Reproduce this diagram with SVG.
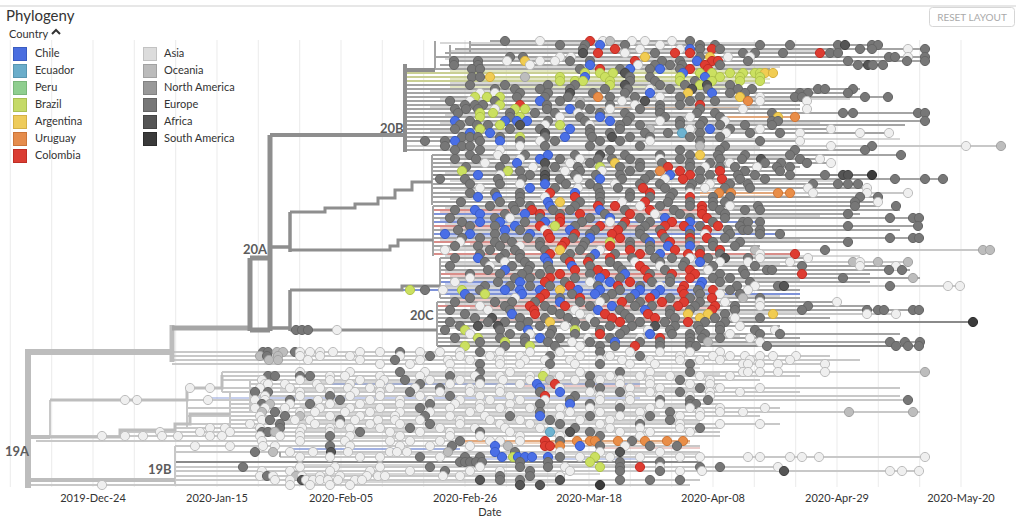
<svg xmlns="http://www.w3.org/2000/svg" width="1024" height="524" viewBox="0 0 1024 524">
<style>
text{font-family:Lato,"Open Sans","Liberation Sans",sans-serif;fill:#333}
.grid{stroke:#ebebeb;stroke-width:1;fill:none}
.t{fill:none}
.g{stroke:#a4a4a4;stroke-width:2}
.d{stroke:#8a8a8a;stroke-width:2}
.l{stroke:#c8c8c8;stroke-width:2}
.gb{stroke:#c9cf93;stroke-width:2}
.bb{stroke:#7f93d8;stroke-width:2}
.rr{stroke:#d88d89;stroke-width:2}
.oo{stroke:#e2a87c;stroke-width:2}
.th{stroke:#b0b0b0;stroke-width:1.2}
.bk{stroke:#bdbdbd}
.bd{stroke:#8e8e8e}
circle{r:4.6px;stroke-width:1}
.E circle{fill:#777;stroke:#666}
.A circle{fill:#efefef;stroke:#bdbdbd}
circle.e{fill:#777;stroke:#666}
circle.a{fill:#efefef;stroke:#bdbdbd}
circle.o{fill:#bdbdbd;stroke:#a3a3a3}
circle.f{fill:#555;stroke:#444}
circle.s{fill:#3b3b3b;stroke:#2e2e2e}
circle.ch{fill:#4a6fe6;stroke:#3a5cc8}
circle.ec{fill:#6db3d1;stroke:#5899b5}
circle.bz{fill:#cbe060;stroke:#b0c44c}
circle.ar{fill:#f1cc52;stroke:#d6b03e}
circle.uy{fill:#e98d47;stroke:#cf7637}
circle.co{fill:#de3c31;stroke:#c12d24}
.lab{font-size:13px;font-weight:700;fill:#5c5c5c}
.tick{font-size:11px;text-anchor:middle}
.lg{font-size:11px}
</style>
<rect width="1024" height="524" fill="#fff"/>
<g id="header">
<line x1="0" y1="6" x2="1016" y2="6" stroke="#cfcfcf" stroke-width="1"/>
<text x="6" y="21" font-size="15">Phylogeny</text>
<rect x="929.5" y="7.5" width="85" height="19" rx="3" fill="#fff" stroke="#d6d6d6"/>
<text x="972" y="21" font-size="10" text-anchor="middle" style="fill:#aaa">RESET LAYOUT</text>
</g>
<g id="grid">
<path class="grid" d="M10.3 40V487M51.7 40V487M93 40V487M134.3 40V487M175.7 40V487M217 40V487M258.3 40V487M299.7 40V487M341 40V487M382.3 40V487M423.7 40V487M465 40V487M506.3 40V487M547.7 40V487M589 40V487M630.3 40V487M671.7 40V487M713 40V487M754.3 40V487M795.7 40V487M837 40V487M878.3 40V487M919.7 40V487M961 40V487"/>
</g>
<g id="legend">
<text x="9" y="38" class="lg">Country</text>
<path d="M52 34l4-4 4 4" fill="none" stroke="#333" stroke-width="2"/>
<rect x="13.5" y="47.5" width="13" height="13" fill="#4a6ee0" stroke="#3a5cc0"/><text x="35" y="57" class="lg">Chile</text>
<rect x="13.5" y="64.5" width="13" height="13" fill="#6aadca" stroke="#5896b0"/><text x="35" y="74" class="lg">Ecuador</text>
<rect x="13.5" y="81.5" width="13" height="13" fill="#8fce8f" stroke="#79b679"/><text x="35" y="91" class="lg">Peru</text>
<rect x="13.5" y="98.5" width="13" height="13" fill="#c5da67" stroke="#aabf52"/><text x="35" y="108" class="lg">Brazil</text>
<rect x="13.5" y="115.5" width="13" height="13" fill="#eecb5a" stroke="#d4b046"/><text x="35" y="125" class="lg">Argentina</text>
<rect x="13.5" y="132.5" width="13" height="13" fill="#e58c4c" stroke="#cb753a"/><text x="35" y="142" class="lg">Uruguay</text>
<rect x="13.5" y="149.5" width="13" height="13" fill="#da3d33" stroke="#be2e25"/><text x="35" y="159" class="lg">Colombia</text>
<rect x="143.5" y="47.5" width="13" height="13" fill="#dcdcdc" stroke="#c2c2c2"/><text x="164" y="57" class="lg">Asia</text>
<rect x="143.5" y="64.5" width="13" height="13" fill="#bbb" stroke="#a2a2a2"/><text x="164" y="74" class="lg">Oceania</text>
<rect x="143.5" y="81.5" width="13" height="13" fill="#999" stroke="#828282"/><text x="164" y="91" class="lg">North America</text>
<rect x="143.5" y="98.5" width="13" height="13" fill="#777" stroke="#636363"/><text x="164" y="108" class="lg">Europe</text>
<rect x="143.5" y="115.5" width="13" height="13" fill="#555" stroke="#444"/><text x="164" y="125" class="lg">Africa</text>
<rect x="143.5" y="132.5" width="13" height="13" fill="#3a3a3a" stroke="#2c2c2c"/><text x="164" y="142" class="lg">South America</text>
</g>
<g id="connectors" class="t">
<path class="th" d="M440 43H760M450 51H820M445 59H700M455 67H780M450 83H770M430 91H720M440 99H850M430 107H760M445 115H700M440 123H820M430 131H760M440 139H900M440 148H760M450 157H800M450 165H740M445 173H700M450 181H840M450 190H780M450 199H700M445 208H760M445 216H820M445 224H700M440 232H760M440 240H800M440 248H720M445 256H860M450 264H780M445 272H720M450 280H800M445 288H740M450 296H780M445 304H720M445 312H800M445 320H760M445 328H700M450 336H740M450 344H800M450 368H700M400 374H720M300 382H640M280 390H700M300 406H700M300 414H660M280 422H700M300 430H640M300 438H460M300 454H700M300 465H640M300 474H600M300 482H560"/>
<path class="th" style="stroke:#d89a96" d="M440 212H700M440 228H690M470 244H700M450 276H680M455 300H700M470 308H720M480 320H690M520 386H640M600 448H700"/>
<path class="th" style="stroke:#8d9fdc" d="M440 220H600M445 236H640M445 284H650M440 292H720M210 398H640M290 449H460M470 459H640"/>
<path class="th" style="stroke:#c8d08a" d="M450 71H775M450 79H770M450 87H740"/>
<path class="th" style="stroke:#e4ae84" d="M600 108H750M465 443H690M700 196H790"/>
<path class="g" d="M490 41H690M470 45H880M455 49H925M445 53H840M435 57H925M450 61H925M440 65H885M420 69H770M405 85H730M405 89H860M405 93H850M405 97H890M405 101H800M405 105H800M405 109H800M405 113H925M405 117H720M405 121H925M405 125H905M405 129H830M405 133H890M405 137H720M405 141H800M405 150H865M432 155H901M432 159H820M432 163H835M432 167H800M432 171H780M432 179H945M432 184H860M432 188H870M432 193H700M432 197H880M432 202H880M433 206H880M700 210H900M600 214H860M433 218H920M433 230H900M433 238H920M700 242H850M433 246H760M700 226H920M440 258H810M440 266H900M440 270H910M700 274H870M440 278H920M700 282H870M700 290H800M440 298H800M437 302H840M700 306H870M437 310H920M437 318H830M437 326H780M437 334H900M437 338H800M437 342H920"/>
<path class="d" d="M432 175H872M437 322H975M437 346H920M175 462H700"/>
<path class="gb" d="M405 73H775M405 77H760M405 81H760"/>
<path class="oo" d="M720 117H795M700 193H790M465 441H690"/>
<path class="rr" d="M433 210H700M433 226H700M433 242H700M433 254H800M440 274H700M437 306H700"/>
<path class="bb" d="M433 214H600M433 222H760M433 234H780M440 282H700M402 290H700M440 294H800"/>
<path class="l" d="M405 146H1001M790 193H910M433 250H990M440 262H910M440 286H960M437 314H900M172 352H720M172 356H830M172 360H860M172 364H830M222 372H925M222 376H800M222 380H760M250 384H720M187 388H900M222 392H800M250 396H900M50 400H910M230 404H720M187 408H780M230 412H920M187 416H760M230 420H700M187 424H780M175 428H720M120 432H720M50 436H720M36 441H465M175 446H700M175 452H700M280 457H925M175 467H780M175 471H920M175 476H560M28 480H700M28 485H690"/>
<path class="bb" style="stroke-width:1.2" d="M292 449H460M330 384H640"/>
<path class="g" d="M435 41V70M450 45V61M470 41V53M432 155V205M433 206V256M440 258V298M437 302V346M280 452V457"/>
<path class="l" d="M222 372V392M250 380V412M187 388V428M230 392V432M175 446V486M120 432V436M50 400V437"/>
<path class="bk" stroke-width="6" d="M28 349V488M28 352H172"/>
<path class="bk" stroke-width="5" d="M172 325V362"/>
<path class="bk" stroke-width="4" d="M28 437H50M28 480H175"/>
<path class="bk" stroke-width="3" d="M50 400H187V388H222V375M50 437H120V430H175V424H190V414H230"/>
<path stroke="#a6a6a6" stroke-width="5" d="M172 328H250"/>
<path class="bd" stroke-width="5" d="M250 258V331M250 258H270M250 330H270M270 135V331"/>
<path class="bd" stroke-width="4" d="M270 135H405M405 64V152M405 70H435"/>
<path class="bd" stroke-width="3.5" d="M270 247H290M290 212V252M270 328H290M290 290V331"/>
<path class="bd" stroke-width="3" d="M290 212H325V208H355V204H378V198H395V190H412V182H432M290 250H390V246H398V240H433M290 290H402V286H440M290 330H437"/>
</g>
<g id="clade-20B" class="E">
<g transform="translate(0 41)"><circle cx="505"/><circle cx="540" class="a"/><circle cx="590" class="co"/><circle cx="603" class="a"/><circle cx="610" class="o"/><circle cx="632" class="a"/><circle cx="645" class="a"/><circle cx="672" class="a"/><circle cx="690"/></g>
<g transform="translate(0 45)"><circle cx="560"/><circle cx="585"/><circle cx="600" class="ch"/><circle cx="625"/><circle cx="660" class="a"/><circle cx="700"/><circle cx="715"/><circle cx="760"/><circle cx="790"/><circle cx="838"/><circle cx="845" class="f"/><circle cx="872"/><circle cx="878"/></g>
<g transform="translate(0 49)"><circle cx="583"/><circle cx="615" class="co"/><circle cx="640" class="a"/><circle cx="680" class="a"/><circle cx="690" class="ch"/><circle cx="700"/><circle cx="712" class="co"/><circle cx="720"/><circle cx="860"/><circle cx="872"/><circle cx="908" class="a"/><circle cx="925"/></g>
<g transform="translate(0 53)"><circle cx="583" class="f"/><circle cx="598" class="co"/><circle cx="625" class="a"/><circle cx="655"/><circle cx="675" class="co"/><circle cx="690" class="co"/><circle cx="743"/><circle cx="755"/><circle cx="783"/><circle cx="820" class="co"/><circle cx="830"/><circle cx="838"/></g>
<g transform="translate(0 57)"><circle cx="510"/><circle cx="523"/><circle cx="560" class="a"/><circle cx="571" class="a"/><circle cx="645" class="ar"/><circle cx="700"/><circle cx="710" class="ar"/><circle cx="728" class="a"/><circle cx="750" class="a"/><circle cx="889"/><circle cx="895"/><circle cx="908" class="a"/><circle cx="925"/></g>
<g transform="translate(0 61)"><circle cx="454"/><circle cx="478"/><circle cx="507" class="a"/><circle cx="525" class="ar"/><circle cx="540" class="a"/><circle cx="555" class="a"/><circle cx="570"/><circle cx="590"/><circle cx="635" class="co"/><circle cx="662"/><circle cx="680"/><circle cx="697" class="ch"/><circle cx="712" class="co"/><circle cx="718" class="co"/><circle cx="748"/><circle cx="848"/><circle cx="907"/><circle cx="925"/></g>
<g transform="translate(0 65)"><circle cx="454"/><circle cx="478"/><circle cx="530" class="a"/><circle cx="590" class="ch"/><circle cx="638" class="a"/><circle cx="655"/><circle cx="670"/><circle cx="682"/><circle cx="705" class="co"/><circle cx="720"/><circle cx="858"/><circle cx="868" class="f"/><circle cx="873"/><circle cx="883"/></g>
<g transform="translate(0 69)"><circle cx="472"/><circle cx="480"/><circle cx="580"/><circle cx="600" class="co"/><circle cx="620"/><circle cx="630" class="ch"/><circle cx="650"/><circle cx="660" class="ch"/><circle cx="680"/><circle cx="690" class="co"/><circle cx="708" class="co"/></g>
<g transform="translate(0 73)"><circle cx="585" class="bz"/><circle cx="600" class="bz"/><circle cx="613" class="bz"/><circle cx="625" class="f"/><circle cx="683" class="ch"/><circle cx="700" class="bz"/><circle cx="712" class="bz"/><circle cx="730" class="bz"/><circle cx="743" class="bz"/><circle cx="755" class="bz"/><circle cx="760" class="bz"/><circle cx="765" class="ar"/><circle cx="773" class="ar"/></g>
<g transform="translate(0 77)"><circle cx="472"/><circle cx="480"/><circle cx="490" class="ar"/><circle cx="525" class="o"/><circle cx="560" class="bz"/><circle cx="585" class="ch"/><circle cx="605" class="bz"/><circle cx="630"/><circle cx="650"/><circle cx="680" class="bz"/><circle cx="705" class="ch"/><circle cx="720" class="bz"/><circle cx="740" class="bz"/><circle cx="760" class="bz"/></g>
<g transform="translate(0 81)"><circle cx="560" class="bz"/><circle cx="575" class="bz"/><circle cx="583" class="bz"/><circle cx="610" class="bz"/><circle cx="630"/><circle cx="655"/><circle cx="680" class="bz"/><circle cx="695"/><circle cx="712" class="bz"/><circle cx="740" class="bz"/><circle cx="760" class="bz"/></g>
<g transform="translate(0 85)"><circle cx="470"/><circle cx="505"/><circle cx="548"/><circle cx="575"/><circle cx="610" class="bz"/><circle cx="625" class="f"/><circle cx="660"/><circle cx="685"/><circle cx="700" class="bz"/><circle cx="707" class="f"/><circle cx="730"/></g>
<g transform="translate(0 89)"><circle cx="495"/><circle cx="515"/><circle cx="540"/><circle cx="570"/><circle cx="605"/><circle cx="628"/><circle cx="650" class="a"/><circle cx="670"/><circle cx="692" class="f"/><circle cx="708"/><circle cx="738"/><circle cx="752"/><circle cx="818"/><circle cx="825"/><circle cx="853"/></g>
<g transform="translate(0 93)"><circle cx="480" class="a"/><circle cx="495" class="a"/><circle cx="520"/><circle cx="548"/><circle cx="570" class="f"/><circle cx="593"/><circle cx="625"/><circle cx="650" class="ch"/><circle cx="688" class="ar"/><circle cx="712" class="ch"/><circle cx="730"/><circle cx="745"/><circle cx="800"/><circle cx="808"/><circle cx="848"/></g>
<g transform="translate(0 97)"><circle cx="475" class="bz"/><circle cx="487" class="bz"/><circle cx="500" class="bz"/><circle cx="517"/><circle cx="545"/><circle cx="568"/><circle cx="598" class="uy"/><circle cx="610"/><circle cx="635"/><circle cx="660" class="a"/><circle cx="680"/><circle cx="700"/><circle cx="740" class="ar"/><circle cx="760" class="a"/><circle cx="795"/><circle cx="802"/><circle cx="865"/><circle cx="888"/></g>
<g transform="translate(0 101)"><circle cx="450"/><circle cx="470" class="a"/><circle cx="495"/><circle cx="540" class="ch"/><circle cx="560"/><circle cx="580" class="o"/><circle cx="622" class="a"/><circle cx="645" class="f"/><circle cx="690"/><circle cx="715"/><circle cx="748" class="uy"/><circle cx="760" class="a"/><circle cx="807" class="a"/></g>
<g transform="translate(0 105)"><circle cx="465"/><circle cx="475"/><circle cx="483"/><circle cx="500" class="bz"/><circle cx="520" class="co"/><circle cx="547"/><circle cx="580"/><circle cx="610"/><circle cx="635" class="a"/><circle cx="660"/><circle cx="680"/><circle cx="700" class="co"/></g>
<g transform="translate(0 109)"><circle cx="455"/><circle cx="466"/><circle cx="478"/><circle cx="495" class="a"/><circle cx="515" class="bz"/><circle cx="525" class="bz"/><circle cx="547"/><circle cx="570" class="ch"/><circle cx="590"/><circle cx="610" class="a"/><circle cx="640"/><circle cx="660"/><circle cx="700"/><circle cx="743" class="a"/><circle cx="807" class="a"/></g>
<g transform="translate(0 113)"><circle cx="458"/><circle cx="480" class="bz"/><circle cx="493" class="bz"/><circle cx="510"/><circle cx="535"/><circle cx="555"/><circle cx="578" class="a"/><circle cx="600"/><circle cx="625"/><circle cx="660"/><circle cx="697"/><circle cx="715"/><circle cx="772"/><circle cx="843"/><circle cx="853"/><circle cx="918"/><circle cx="925"/></g>
<g transform="translate(0 117)"><circle cx="480" class="bz"/><circle cx="510"/><circle cx="520" class="bz"/><circle cx="560" class="a"/><circle cx="580"/><circle cx="600" class="ch"/><circle cx="630"/><circle cx="665"/><circle cx="690" class="a"/><circle cx="720"/><circle cx="778" class="ar"/><circle cx="795" class="uy"/></g>
<g transform="translate(0 121)"><circle cx="455" class="ch"/><circle cx="470"/><circle cx="505" class="ch"/><circle cx="517" class="ch"/><circle cx="527" class="ch"/><circle cx="548"/><circle cx="585"/><circle cx="610" class="ch"/><circle cx="627"/><circle cx="660" class="a"/><circle cx="680"/><circle cx="703"/><circle cx="725" class="a"/><circle cx="772"/><circle cx="778"/><circle cx="925"/></g>
<g transform="translate(0 125)"><circle cx="460"/><circle cx="477"/><circle cx="488"/><circle cx="500" class="bz"/><circle cx="520" class="f"/><circle cx="545" class="a"/><circle cx="560" class="bz"/><circle cx="590" class="a"/><circle cx="620"/><circle cx="640"/><circle cx="680"/><circle cx="700"/><circle cx="720"/><circle cx="745"/><circle cx="772"/></g>
<g transform="translate(0 129)"><circle cx="455"/><circle cx="480" class="bz"/><circle cx="510"/><circle cx="540"/><circle cx="570" class="ch"/><circle cx="590"/><circle cx="620"/><circle cx="650" class="o"/><circle cx="690" class="a"/><circle cx="710" class="ch"/><circle cx="730"/><circle cx="760" class="a"/><circle cx="831" class="a"/></g>
<g transform="translate(0 133)"><circle cx="470" class="ch"/><circle cx="490" class="ch"/><circle cx="545" class="f"/><circle cx="590"/><circle cx="610"/><circle cx="645"/><circle cx="668"/><circle cx="682" class="ec"/><circle cx="700"/><circle cx="726" class="a"/><circle cx="750"/><circle cx="780"/><circle cx="800" class="a"/><circle cx="860" class="a"/><circle cx="889" class="a"/></g>
<g transform="translate(0 137)"><circle cx="462"/><circle cx="470"/><circle cx="478"/><circle cx="500"/><circle cx="520" class="bz"/><circle cx="545"/><circle cx="565" class="ch"/><circle cx="592"/><circle cx="612" class="f"/><circle cx="630"/><circle cx="650"/><circle cx="690"/><circle cx="720"/></g>
<g transform="translate(0 141)"><circle cx="425"/><circle cx="445"/><circle cx="455" class="ch"/><circle cx="480"/><circle cx="500" class="ch"/><circle cx="520"/><circle cx="540" class="a"/><circle cx="555"/><circle cx="600"/><circle cx="620"/><circle cx="650" class="a"/><circle cx="700"/><circle cx="760"/><circle cx="800" class="a"/></g>
<g transform="translate(0 146)"><circle cx="445"/><circle cx="462"/><circle cx="470"/><circle cx="520" class="a"/><circle cx="545"/><circle cx="590"/><circle cx="640"/><circle cx="700" class="o"/><circle cx="725"/><circle cx="831" class="a"/><circle cx="872"/><circle cx="966" class="a"/><circle cx="1001" class="o"/></g>
<g transform="translate(0 150)"><circle cx="455"/><circle cx="480"/><circle cx="500" class="a"/><circle cx="610"/><circle cx="680"/><circle cx="720"/><circle cx="795"/><circle cx="865"/></g>
</g>
<g id="clade-20A" class="E">
<g transform="translate(0 155)"><circle cx="470"/><circle cx="498" class="a"/><circle cx="525"/><circle cx="548" class="ch"/><circle cx="575"/><circle cx="600" class="f"/><circle cx="625"/><circle cx="660"/><circle cx="690"/><circle cx="700" class="ar"/><circle cx="718"/><circle cx="745"/><circle cx="790"/><circle cx="901"/></g>
<g transform="translate(0 159)"><circle cx="455"/><circle cx="476"/><circle cx="505"/><circle cx="520" class="a"/><circle cx="540" class="ch"/><circle cx="560"/><circle cx="580" class="a"/><circle cx="598"/><circle cx="612"/><circle cx="630"/><circle cx="660" class="a"/><circle cx="680"/><circle cx="720"/><circle cx="742"/><circle cx="761" class="f"/><circle cx="800"/><circle cx="820" class="a"/></g>
<g transform="translate(0 163)"><circle cx="485" class="a"/><circle cx="517" class="ch"/><circle cx="545" class="f"/><circle cx="570" class="a"/><circle cx="590"/><circle cx="615" class="ar"/><circle cx="640"/><circle cx="662"/><circle cx="690"/><circle cx="710"/><circle cx="730" class="a"/><circle cx="765"/><circle cx="781"/><circle cx="807"/><circle cx="831" class="a"/></g>
<g transform="translate(0 167)"><circle cx="466"/><circle cx="500"/><circle cx="533" class="a"/><circle cx="555"/><circle cx="578"/><circle cx="600" class="bz"/><circle cx="620"/><circle cx="640"/><circle cx="668" class="co"/><circle cx="690"/><circle cx="705" class="a"/><circle cx="720"/><circle cx="735"/><circle cx="757" class="a"/><circle cx="777"/><circle cx="790"/></g>
<g transform="translate(0 171)"><circle cx="462" class="bz"/><circle cx="508" class="bz"/><circle cx="520"/><circle cx="545"/><circle cx="565" class="a"/><circle cx="580"/><circle cx="602" class="a"/><circle cx="630"/><circle cx="660" class="uy"/><circle cx="680" class="co"/><circle cx="700"/><circle cx="720" class="co"/><circle cx="745"/><circle cx="780"/></g>
<g transform="translate(0 175)"><circle cx="478" class="ch"/><circle cx="500" class="a"/><circle cx="530"/><circle cx="545" class="f"/><circle cx="575"/><circle cx="596"/><circle cx="620"/><circle cx="650"/><circle cx="670" class="ch"/><circle cx="690" class="co"/><circle cx="710"/><circle cx="738"/><circle cx="755"/><circle cx="790"/><circle cx="825"/><circle cx="843" class="f"/><circle cx="848" class="f"/><circle cx="872" class="s"/></g>
<g transform="translate(0 179)"><circle cx="440"/><circle cx="465"/><circle cx="498"/><circle cx="522"/><circle cx="545" class="f"/><circle cx="560"/><circle cx="578" class="a"/><circle cx="600" class="ch"/><circle cx="622"/><circle cx="645"/><circle cx="665" class="a"/><circle cx="683" class="co"/><circle cx="700"/><circle cx="722" class="co"/><circle cx="740"/><circle cx="765"/><circle cx="895"/><circle cx="925"/><circle cx="943"/></g>
<g transform="translate(0 184)"><circle cx="470"/><circle cx="500"/><circle cx="520" class="a"/><circle cx="545" class="ch"/><circle cx="566"/><circle cx="590"/><circle cx="615" class="a"/><circle cx="640"/><circle cx="660"/><circle cx="692"/><circle cx="710" class="a"/><circle cx="730"/><circle cx="748"/><circle cx="813"/><circle cx="838"/><circle cx="848"/><circle cx="858"/></g>
<g transform="translate(0 188)"><circle cx="480" class="a"/><circle cx="530" class="ch"/><circle cx="555"/><circle cx="578" class="a"/><circle cx="598"/><circle cx="618"/><circle cx="643" class="co"/><circle cx="665"/><circle cx="690"/><circle cx="705" class="a"/><circle cx="725"/><circle cx="750"/><circle cx="808" class="a"/><circle cx="867" class="a"/></g>
<g transform="translate(0 193)"><circle cx="470"/><circle cx="495"/><circle cx="520"/><circle cx="550" class="co"/><circle cx="575" class="ch"/><circle cx="600"/><circle cx="630"/><circle cx="650" class="co"/><circle cx="673"/><circle cx="690" class="a"/><circle cx="719" class="uy"/><circle cx="731" class="uy"/><circle cx="778" class="uy"/><circle cx="790" class="uy"/><circle cx="813" class="a"/><circle cx="867" class="a"/><circle cx="908" class="a"/></g>
<g transform="translate(0 197)"><circle cx="478" class="ch"/><circle cx="497" class="ch"/><circle cx="520"/><circle cx="545" class="a"/><circle cx="575" class="co"/><circle cx="600"/><circle cx="630"/><circle cx="650"/><circle cx="670"/><circle cx="690" class="co"/><circle cx="713"/><circle cx="730"/><circle cx="860"/><circle cx="878"/></g>
<g transform="translate(0 202)"><circle cx="461"/><circle cx="500"/><circle cx="520"/><circle cx="548" class="ch"/><circle cx="560" class="ar"/><circle cx="580"/><circle cx="600"/><circle cx="622" class="a"/><circle cx="645" class="co"/><circle cx="668"/><circle cx="690"/><circle cx="713"/><circle cx="725"/><circle cx="855"/><circle cx="878" class="a"/></g>
<g transform="translate(0 206)"><circle cx="490"/><circle cx="513"/><circle cx="530"/><circle cx="550" class="ch"/><circle cx="575"/><circle cx="598" class="co"/><circle cx="615" class="co"/><circle cx="640" class="a"/><circle cx="660"/><circle cx="690"/><circle cx="702" class="co"/><circle cx="713"/><circle cx="730" class="a"/><circle cx="758"/><circle cx="855"/><circle cx="896"/></g>
<g transform="translate(0 210)"><circle cx="455"/><circle cx="475" class="ch"/><circle cx="515"/><circle cx="532" class="co"/><circle cx="553"/><circle cx="570"/><circle cx="600" class="ch"/><circle cx="625"/><circle cx="650" class="co"/><circle cx="674"/><circle cx="702" class="co"/><circle cx="720"/><circle cx="745"/><circle cx="760"/></g>
<g transform="translate(0 214)"><circle cx="480" class="ch"/><circle cx="505"/><circle cx="525" class="ch"/><circle cx="540" class="co"/><circle cx="560"/><circle cx="580" class="co"/><circle cx="605"/><circle cx="630" class="co"/><circle cx="655" class="a"/><circle cx="680"/><circle cx="702" class="co"/><circle cx="725"/><circle cx="848"/></g>
<g transform="translate(0 218)"><circle cx="450"/><circle cx="495"/><circle cx="510" class="a"/><circle cx="540"/><circle cx="560" class="co"/><circle cx="590"/><circle cx="610" class="ch"/><circle cx="640"/><circle cx="665" class="ch"/><circle cx="690"/><circle cx="707" class="co"/><circle cx="725"/><circle cx="890"/><circle cx="913"/><circle cx="919"/></g>
<g transform="translate(0 222)"><circle cx="462"/><circle cx="480" class="ch"/><circle cx="500" class="ch"/><circle cx="525"/><circle cx="545" class="ch"/><circle cx="560" class="co"/><circle cx="582"/><circle cx="610" class="a"/><circle cx="625" class="co"/><circle cx="650"/><circle cx="672" class="co"/><circle cx="690" class="ch"/><circle cx="713"/><circle cx="743"/><circle cx="748"/><circle cx="760"/></g>
<g transform="translate(0 226)"><circle cx="470"/><circle cx="495"/><circle cx="515" class="ch"/><circle cx="540" class="co"/><circle cx="555" class="bz"/><circle cx="575"/><circle cx="600" class="co"/><circle cx="622"/><circle cx="645"/><circle cx="665" class="co"/><circle cx="684" class="co"/><circle cx="700"/><circle cx="718" class="co"/><circle cx="740"/><circle cx="848"/><circle cx="918"/></g>
<g transform="translate(0 230)"><circle cx="458"/><circle cx="505" class="ch"/><circle cx="520"/><circle cx="545" class="a"/><circle cx="570" class="ch"/><circle cx="595"/><circle cx="618" class="co"/><circle cx="640"/><circle cx="660"/><circle cx="690" class="ch"/><circle cx="707" class="co"/><circle cx="728"/><circle cx="743"/><circle cx="748"/><circle cx="760"/></g>
<g transform="translate(0 234)"><circle cx="445" class="ch"/><circle cx="470" class="ch"/><circle cx="495"/><circle cx="530" class="ch"/><circle cx="548" class="co"/><circle cx="575" class="co"/><circle cx="590"/><circle cx="612" class="co"/><circle cx="640"/><circle cx="662" class="co"/><circle cx="690"/><circle cx="705" class="a"/><circle cx="730"/><circle cx="760"/><circle cx="780"/></g>
<g transform="translate(0 238)"><circle cx="462"/><circle cx="480"/><circle cx="505"/><circle cx="528"/><circle cx="550" class="co"/><circle cx="573"/><circle cx="590" class="ch"/><circle cx="620" class="co"/><circle cx="645"/><circle cx="665"/><circle cx="690" class="co"/><circle cx="707" class="co"/><circle cx="725"/><circle cx="890"/><circle cx="913"/><circle cx="919"/></g>
<g transform="translate(0 242)"><circle cx="460" class="a"/><circle cx="495"/><circle cx="512"/><circle cx="540"/><circle cx="565" class="co"/><circle cx="585"/><circle cx="610" class="bz"/><circle cx="630"/><circle cx="650" class="ch"/><circle cx="670" class="co"/><circle cx="690"/><circle cx="713"/><circle cx="740"/><circle cx="848"/></g>
<g transform="translate(0 246)"><circle cx="455"/><circle cx="478"/><circle cx="500"/><circle cx="520" class="a"/><circle cx="540"/><circle cx="562" class="co"/><circle cx="583"/><circle cx="610" class="co"/><circle cx="630"/><circle cx="650"/><circle cx="668" class="ch"/><circle cx="690" class="ch"/><circle cx="713"/><circle cx="735"/></g>
<g transform="translate(0 250)"><circle cx="445" class="a"/><circle cx="490"/><circle cx="515"/><circle cx="545"/><circle cx="560" class="ar"/><circle cx="580"/><circle cx="600" class="a"/><circle cx="630" class="co"/><circle cx="650"/><circle cx="675" class="co"/><circle cx="700"/><circle cx="720" class="co"/><circle cx="755" class="o"/><circle cx="825"/><circle cx="983" class="o"/><circle cx="990" class="o"/></g>
<g transform="translate(0 254)"><circle cx="480"/><circle cx="505"/><circle cx="520"/><circle cx="550" class="co"/><circle cx="570"/><circle cx="595" class="ch"/><circle cx="615"/><circle cx="640" class="co"/><circle cx="660" class="ch"/><circle cx="688" class="co"/><circle cx="700" class="co"/><circle cx="720"/><circle cx="760" class="a"/><circle cx="795" class="co"/></g>
<g transform="translate(0 258)"><circle cx="455"/><circle cx="478" class="ch"/><circle cx="500"/><circle cx="520"/><circle cx="545" class="ch"/><circle cx="565"/><circle cx="590"/><circle cx="610" class="co"/><circle cx="632"/><circle cx="655"/><circle cx="672"/><circle cx="690" class="a"/><circle cx="708"/><circle cx="725" class="f"/><circle cx="748"/><circle cx="760" class="a"/><circle cx="808" class="a"/></g>
<g transform="translate(0 262)"><circle cx="485"/><circle cx="505" class="a"/><circle cx="525"/><circle cx="548" class="ch"/><circle cx="570" class="co"/><circle cx="588" class="co"/><circle cx="610"/><circle cx="635" class="a"/><circle cx="660"/><circle cx="685"/><circle cx="700" class="ch"/><circle cx="720" class="a"/><circle cx="748" class="a"/><circle cx="790" class="a"/><circle cx="853" class="o"/><circle cx="860" class="a"/><circle cx="878" class="o"/><circle cx="908" class="o"/></g>
<g transform="translate(0 266)"><circle cx="450"/><circle cx="490" class="a"/><circle cx="512"/><circle cx="530"/><circle cx="548"/><circle cx="572" class="ch"/><circle cx="590"/><circle cx="618"/><circle cx="640" class="co"/><circle cx="660" class="a"/><circle cx="683"/><circle cx="713"/><circle cx="755"/><circle cx="802"/><circle cx="860" class="a"/><circle cx="896" class="a"/></g>
<g transform="translate(0 270)"><circle cx="488"/><circle cx="505" class="ch"/><circle cx="528"/><circle cx="550"/><circle cx="575" class="co"/><circle cx="598" class="co"/><circle cx="622"/><circle cx="645" class="co"/><circle cx="665"/><circle cx="690" class="co"/><circle cx="708" class="a"/><circle cx="743"/><circle cx="767"/><circle cx="772"/><circle cx="889"/><circle cx="902"/></g>
<g transform="translate(0 274)"><circle cx="470"/><circle cx="500"/><circle cx="522"/><circle cx="540"/><circle cx="560" class="co"/><circle cx="590"/><circle cx="605" class="co"/><circle cx="625" class="ch"/><circle cx="650"/><circle cx="672" class="co"/><circle cx="695" class="co"/><circle cx="720"/><circle cx="745"/><circle cx="802" class="co"/></g>
<g transform="translate(0 278)"><circle cx="470" class="a"/><circle cx="515"/><circle cx="530"/><circle cx="550" class="co"/><circle cx="575"/><circle cx="600" class="ch"/><circle cx="620"/><circle cx="648" class="co"/><circle cx="670"/><circle cx="690" class="co"/><circle cx="713"/><circle cx="730"/><circle cx="843"/><circle cx="913" class="o"/></g>
<g transform="translate(0 282)"><circle cx="455" class="a"/><circle cx="498"/><circle cx="520" class="ch"/><circle cx="545" class="co"/><circle cx="565"/><circle cx="590" class="a"/><circle cx="610" class="ch"/><circle cx="630" class="co"/><circle cx="652"/><circle cx="670"/><circle cx="702" class="ch"/><circle cx="720"/><circle cx="750"/></g>
<g transform="translate(0 286)"><circle cx="485"/><circle cx="510"/><circle cx="530"/><circle cx="550"/><circle cx="570" class="co"/><circle cx="598"/><circle cx="618" class="co"/><circle cx="640"/><circle cx="660" class="a"/><circle cx="684" class="co"/><circle cx="700" class="ch"/><circle cx="737"/><circle cx="755" class="a"/><circle cx="778"/><circle cx="784" class="f"/><circle cx="890"/><circle cx="948" class="a"/><circle cx="960" class="a"/></g>
<g transform="translate(0 290)"><circle cx="410" class="bz"/><circle cx="425"/><circle cx="443" class="a"/><circle cx="462" class="bz"/><circle cx="480"/><circle cx="505" class="ch"/><circle cx="520" class="ch"/><circle cx="540" class="ch"/><circle cx="560" class="ar"/><circle cx="578" class="ch"/><circle cx="600" class="ch"/><circle cx="620"/><circle cx="640" class="ch"/><circle cx="660" class="ch"/><circle cx="682" class="co"/><circle cx="698"/><circle cx="713" class="co"/><circle cx="730"/><circle cx="748" class="a"/></g>
<g transform="translate(0 294)"><circle cx="465" class="ch"/><circle cx="485" class="bz"/><circle cx="522" class="ch"/><circle cx="545" class="co"/><circle cx="572"/><circle cx="595" class="ch"/><circle cx="612"/><circle cx="635" class="ch"/><circle cx="655" class="ch"/><circle cx="684" class="co"/><circle cx="700"/><circle cx="720" class="a"/><circle cx="740"/></g>
<g transform="translate(0 298)"><circle cx="470"/><circle cx="515" class="a"/><circle cx="540" class="co"/><circle cx="560"/><circle cx="580" class="co"/><circle cx="605"/><circle cx="630"/><circle cx="650" class="co"/><circle cx="670"/><circle cx="690"/><circle cx="712" class="co"/><circle cx="743" class="o"/><circle cx="760"/></g>
</g>
<g id="clade-20C" class="E">
<g transform="translate(0 302)"><circle cx="455"/><circle cx="495"/><circle cx="512"/><circle cx="535"/><circle cx="560" class="ch"/><circle cx="580"/><circle cx="600" class="a"/><circle cx="622" class="co"/><circle cx="640"/><circle cx="662" class="co"/><circle cx="684" class="co"/><circle cx="700"/><circle cx="725" class="a"/><circle cx="760" class="a"/><circle cx="837" class="a"/></g>
<g transform="translate(0 306)"><circle cx="480" class="a"/><circle cx="505"/><circle cx="530" class="co"/><circle cx="545"/><circle cx="565" class="co"/><circle cx="590"/><circle cx="612" class="ch"/><circle cx="635"/><circle cx="652"/><circle cx="678" class="co"/><circle cx="695"/><circle cx="715" class="co"/><circle cx="735"/><circle cx="760" class="a"/><circle cx="808"/></g>
<g transform="translate(0 310)"><circle cx="450"/><circle cx="488" class="a"/><circle cx="510"/><circle cx="534" class="co"/><circle cx="552"/><circle cx="575" class="a"/><circle cx="598" class="ch"/><circle cx="620"/><circle cx="645" class="ch"/><circle cx="670"/><circle cx="690"/><circle cx="712" class="co"/><circle cx="735"/><circle cx="802"/><circle cx="867"/><circle cx="878"/><circle cx="884"/><circle cx="913"/><circle cx="919"/></g>
<g transform="translate(0 314)"><circle cx="465"/><circle cx="512" class="ch"/><circle cx="535" class="co"/><circle cx="560"/><circle cx="580" class="a"/><circle cx="605" class="co"/><circle cx="625"/><circle cx="648" class="co"/><circle cx="670"/><circle cx="688" class="ar"/><circle cx="708" class="ar"/><circle cx="725"/><circle cx="773" class="ar"/><circle cx="867" class="a"/><circle cx="896" class="a"/></g>
<g transform="translate(0 318)"><circle cx="475"/><circle cx="492" class="f"/><circle cx="520"/><circle cx="545"/><circle cx="568"/><circle cx="590" class="a"/><circle cx="612" class="co"/><circle cx="630"/><circle cx="655" class="co"/><circle cx="675"/><circle cx="700" class="ar"/><circle cx="715"/><circle cx="735" class="a"/><circle cx="760"/></g>
<g transform="translate(0 322)"><circle cx="450"/><circle cx="488"/><circle cx="505"/><circle cx="528"/><circle cx="550" class="ar"/><circle cx="575"/><circle cx="595"/><circle cx="620" class="co"/><circle cx="640"/><circle cx="665"/><circle cx="688" class="co"/><circle cx="705"/><circle cx="725"/><circle cx="973" class="s"/></g>
<g transform="translate(0 326)"><circle cx="460"/><circle cx="478" class="f"/><circle cx="498" class="f"/><circle cx="520"/><circle cx="540"/><circle cx="565" class="a"/><circle cx="585"/><circle cx="610"/><circle cx="632"/><circle cx="655" class="f"/><circle cx="675"/><circle cx="698"/><circle cx="720"/><circle cx="740" class="a"/></g>
<g transform="translate(0 330)"><circle cx="296"/><circle cx="302"/><circle cx="308"/><circle cx="337" class="a"/><circle cx="445"/><circle cx="465" class="bz"/><circle cx="500"/><circle cx="528" class="ch"/><circle cx="552"/><circle cx="575" class="bz"/><circle cx="600"/><circle cx="625"/><circle cx="648" class="a"/><circle cx="670"/><circle cx="700"/><circle cx="720"/><circle cx="755"/><circle cx="775" class="a"/></g>
<g transform="translate(0 334)"><circle cx="470" class="a"/><circle cx="510"/><circle cx="530" class="a"/><circle cx="550"/><circle cx="575"/><circle cx="600" class="co"/><circle cx="620"/><circle cx="650" class="ch"/><circle cx="672"/><circle cx="690"/><circle cx="705"/><circle cx="730" class="a"/><circle cx="760"/><circle cx="780"/></g>
<g transform="translate(0 338)"><circle cx="455"/><circle cx="478" class="bz"/><circle cx="500"/><circle cx="525"/><circle cx="540" class="ch"/><circle cx="560"/><circle cx="588" class="a"/><circle cx="610"/><circle cx="640" class="a"/><circle cx="660" class="co"/><circle cx="690"/><circle cx="702"/><circle cx="720"/><circle cx="750" class="a"/></g>
<g transform="translate(0 342)"><circle cx="480"/><circle cx="505" class="bz"/><circle cx="525"/><circle cx="548"/><circle cx="572" class="a"/><circle cx="590"/><circle cx="615" class="ch"/><circle cx="640"/><circle cx="660"/><circle cx="690"/><circle cx="708" class="o"/><circle cx="760" class="a"/><circle cx="890"/><circle cx="905"/><circle cx="920"/></g>
<g transform="translate(0 346)"><circle cx="465" class="bz"/><circle cx="505"/><circle cx="530" class="bz"/><circle cx="555"/><circle cx="580" class="a"/><circle cx="600"/><circle cx="615"/><circle cx="635" class="co"/><circle cx="660"/><circle cx="690"/><circle cx="696"/><circle cx="767"/><circle cx="896"/><circle cx="908"/><circle cx="919"/></g>
</g>
<g id="clade-19A" class="A">
<g transform="translate(0 352)"><circle cx="263" class="e"/><circle cx="268" class="e"/><circle cx="277" class="o"/><circle cx="283" class="o"/><circle cx="295" class="e"/><circle cx="300"/><circle cx="310"/><circle cx="320"/><circle cx="333"/><circle cx="360"/><circle cx="380"/><circle cx="400" class="e"/><circle cx="420"/><circle cx="440"/><circle cx="460"/><circle cx="480" class="e"/><circle cx="500"/><circle cx="530"/><circle cx="560"/><circle cx="600" class="e"/><circle cx="630"/><circle cx="660"/><circle cx="690"/><circle cx="720"/></g>
<g transform="translate(0 356)"><circle cx="260" class="o"/><circle cx="267" class="e"/><circle cx="278" class="o"/><circle cx="300"/><circle cx="320"/><circle cx="350"/><circle cx="400"/><circle cx="430" class="e"/><circle cx="460"/><circle cx="490"/><circle cx="520"/><circle cx="550" class="e"/><circle cx="580"/><circle cx="610"/><circle cx="640" class="e"/><circle cx="680"/><circle cx="713"/><circle cx="730"/><circle cx="745"/><circle cx="760"/><circle cx="773"/><circle cx="796"/></g>
<g transform="translate(0 360)"><circle cx="269" class="o"/><circle cx="278" class="o"/><circle cx="308"/><circle cx="360"/><circle cx="395" class="e"/><circle cx="420"/><circle cx="448"/><circle cx="470"/><circle cx="500"/><circle cx="525"/><circle cx="545"/><circle cx="570"/><circle cx="600"/><circle cx="622"/><circle cx="650"/><circle cx="680"/><circle cx="700"/><circle cx="720"/><circle cx="750"/><circle cx="790"/></g>
<g transform="translate(0 364)"><circle cx="380"/><circle cx="410"/><circle cx="450"/><circle cx="480" class="e"/><circle cx="500"/><circle cx="520"/><circle cx="550" class="e"/><circle cx="575"/><circle cx="600" class="e"/><circle cx="630"/><circle cx="655"/><circle cx="690" class="e"/><circle cx="743"/><circle cx="748"/><circle cx="760"/><circle cx="778"/><circle cx="825"/></g>
<g transform="translate(0 372)"><circle cx="300"/><circle cx="350"/><circle cx="400" class="e"/><circle cx="425"/><circle cx="450"/><circle cx="480" class="e"/><circle cx="510"/><circle cx="545"/><circle cx="580"/><circle cx="620" class="e"/><circle cx="650"/><circle cx="690" class="e"/><circle cx="743"/><circle cx="748"/><circle cx="760"/><circle cx="778"/><circle cx="825"/><circle cx="925" class="o"/></g>
<g transform="translate(0 376)"><circle cx="268" class="e"/><circle cx="275" class="e"/><circle cx="300" class="e"/><circle cx="310" class="e"/><circle cx="330"/><circle cx="345"/><circle cx="380"/><circle cx="420"/><circle cx="450" class="e"/><circle cx="475"/><circle cx="500"/><circle cx="530"/><circle cx="543" class="bz"/><circle cx="560"/><circle cx="590" class="e"/><circle cx="610"/><circle cx="640"/><circle cx="670"/><circle cx="700"/><circle cx="730"/></g>
<g transform="translate(0 380)"><circle cx="262"/><circle cx="300"/><circle cx="330"/><circle cx="360"/><circle cx="384"/><circle cx="405" class="e"/><circle cx="430"/><circle cx="460"/><circle cx="480" class="e"/><circle cx="503"/><circle cx="530"/><circle cx="550" class="o"/><circle cx="575"/><circle cx="600"/><circle cx="620"/><circle cx="650"/><circle cx="680" class="e"/><circle cx="710"/></g>
<g transform="translate(0 384)"><circle cx="265"/><circle cx="268"/><circle cx="285"/><circle cx="317"/><circle cx="350"/><circle cx="380"/><circle cx="420" class="e"/><circle cx="450"/><circle cx="480"/><circle cx="520"/><circle cx="537" class="ch"/><circle cx="555" class="co"/><circle cx="590" class="e"/><circle cx="620"/><circle cx="650"/><circle cx="690"/><circle cx="710"/></g>
<g transform="translate(0 388)"><circle cx="190"/><circle cx="210"/><circle cx="260"/><circle cx="290"/><circle cx="320"/><circle cx="348"/><circle cx="370"/><circle cx="390"/><circle cx="415"/><circle cx="440" class="e"/><circle cx="470"/><circle cx="500"/><circle cx="540" class="ch"/><circle cx="560"/><circle cx="600" class="e"/><circle cx="630"/><circle cx="660"/><circle cx="700" class="e"/><circle cx="720"/><circle cx="760"/></g>
<g transform="translate(0 392)"><circle cx="255" class="e"/><circle cx="268" class="e"/><circle cx="300"/><circle cx="330"/><circle cx="355"/><circle cx="380"/><circle cx="410" class="e"/><circle cx="440"/><circle cx="470"/><circle cx="500"/><circle cx="540" class="e"/><circle cx="560" class="ch"/><circle cx="590"/><circle cx="620" class="e"/><circle cx="650"/><circle cx="680" class="e"/><circle cx="710"/><circle cx="740"/></g>
<g transform="translate(0 396)"><circle cx="265"/><circle cx="300"/><circle cx="330" class="e"/><circle cx="350"/><circle cx="380"/><circle cx="420"/><circle cx="450" class="e"/><circle cx="480"/><circle cx="510"/><circle cx="545" class="co"/><circle cx="575" class="e"/><circle cx="600"/><circle cx="630"/><circle cx="660"/><circle cx="690"/><circle cx="710"/></g>
<g transform="translate(0 400)"><circle cx="125"/><circle cx="137"/><circle cx="208"/><circle cx="255"/><circle cx="265"/><circle cx="290" class="e"/><circle cx="318"/><circle cx="340" class="e"/><circle cx="370"/><circle cx="400"/><circle cx="430"/><circle cx="460"/><circle cx="490"/><circle cx="520"/><circle cx="545"/><circle cx="570" class="e"/><circle cx="600"/><circle cx="630"/><circle cx="660" class="e"/><circle cx="690" class="e"/><circle cx="708" class="e"/><circle cx="908" class="e"/></g>
<g transform="translate(0 404)"><circle cx="262" class="e"/><circle cx="270" class="o"/><circle cx="290"/><circle cx="310" class="e"/><circle cx="330"/><circle cx="360"/><circle cx="400"/><circle cx="430" class="e"/><circle cx="455"/><circle cx="480"/><circle cx="510"/><circle cx="540" class="e"/><circle cx="570" class="ch"/><circle cx="590" class="e"/><circle cx="620"/><circle cx="660"/><circle cx="690" class="e"/><circle cx="696" class="e"/></g>
<g transform="translate(0 408)"><circle cx="255"/><circle cx="265"/><circle cx="285"/><circle cx="320"/><circle cx="350"/><circle cx="380"/><circle cx="420" class="e"/><circle cx="450"/><circle cx="480"/><circle cx="500"/><circle cx="530"/><circle cx="560"/><circle cx="590"/><circle cx="620" class="e"/><circle cx="650"/><circle cx="690"/><circle cx="720"/><circle cx="765"/></g>
<g transform="translate(0 412)"><circle cx="262" class="o"/><circle cx="275" class="e"/><circle cx="300"/><circle cx="315"/><circle cx="345"/><circle cx="370"/><circle cx="400"/><circle cx="430"/><circle cx="470"/><circle cx="510"/><circle cx="540" class="e"/><circle cx="570"/><circle cx="600"/><circle cx="640"/><circle cx="670" class="e"/><circle cx="700"/><circle cx="720"/><circle cx="743"/><circle cx="849" class="o"/><circle cx="913" class="o"/></g>
<g transform="translate(0 416)"><circle cx="260"/><circle cx="285" class="e"/><circle cx="300" class="o"/><circle cx="330"/><circle cx="360"/><circle cx="395"/><circle cx="425" class="e"/><circle cx="450"/><circle cx="485"/><circle cx="510" class="e"/><circle cx="540" class="ch"/><circle cx="560"/><circle cx="590" class="e"/><circle cx="620"/><circle cx="650" class="e"/><circle cx="680"/><circle cx="700"/></g>
<g transform="translate(0 420)"><circle cx="262"/><circle cx="270" class="e"/><circle cx="295"/><circle cx="310"/><circle cx="340" class="e"/><circle cx="355"/><circle cx="378"/><circle cx="395"/><circle cx="420"/><circle cx="460"/><circle cx="490"/><circle cx="520"/><circle cx="550" class="e"/><circle cx="580"/><circle cx="610"/><circle cx="640"/><circle cx="670" class="e"/></g>
<g transform="translate(0 424)"><circle cx="250"/><circle cx="280" class="e"/><circle cx="315"/><circle cx="340"/><circle cx="370"/><circle cx="400"/><circle cx="430" class="e"/><circle cx="460"/><circle cx="500"/><circle cx="530"/><circle cx="560" class="e"/><circle cx="600"/><circle cx="640" class="e"/><circle cx="680"/><circle cx="720"/><circle cx="760"/></g>
<g transform="translate(0 428)"><circle cx="210"/><circle cx="225"/><circle cx="260"/><circle cx="280" class="e"/><circle cx="302"/><circle cx="330"/><circle cx="350"/><circle cx="380"/><circle cx="410" class="e"/><circle cx="440"/><circle cx="475"/><circle cx="505"/><circle cx="540"/><circle cx="575" class="e"/><circle cx="610"/><circle cx="640"/><circle cx="680"/><circle cx="700" class="e"/></g>
<g transform="translate(0 432)"><circle cx="160"/><circle cx="200"/><circle cx="230"/><circle cx="262" class="e"/><circle cx="268" class="e"/><circle cx="275" class="o"/><circle cx="300"/><circle cx="330"/><circle cx="360" class="e"/><circle cx="390"/><circle cx="420"/><circle cx="450"/><circle cx="480" class="e"/><circle cx="510"/><circle cx="550" class="ec"/><circle cx="570" class="f"/><circle cx="590" class="e"/><circle cx="620"/><circle cx="650"/><circle cx="690"/></g>
<g transform="translate(0 436)"><circle cx="102"/><circle cx="125"/><circle cx="143"/><circle cx="162"/><circle cx="178"/><circle cx="210"/><circle cx="222"/><circle cx="260"/><circle cx="280"/><circle cx="300"/><circle cx="330" class="e"/><circle cx="350"/><circle cx="400"/><circle cx="450"/><circle cx="480"/><circle cx="520"/><circle cx="560"/><circle cx="600" class="e"/><circle cx="640"/></g>
<g transform="translate(0 441)"><circle cx="262"/><circle cx="300"/><circle cx="345"/><circle cx="390"/><circle cx="410"/><circle cx="440"/><circle cx="460" class="e"/><circle cx="490"/><circle cx="500"/><circle cx="520"/><circle cx="545" class="co"/><circle cx="560" class="e"/><circle cx="577" class="uy"/><circle cx="590" class="uy"/><circle cx="595" class="uy"/><circle cx="618" class="uy"/><circle cx="632" class="e"/><circle cx="645" class="uy"/><circle cx="667" class="uy"/><circle cx="683" class="uy"/></g>
<g transform="translate(0 446)"><circle cx="195"/><circle cx="230"/><circle cx="263"/><circle cx="275"/><circle cx="330" class="e"/><circle cx="350"/><circle cx="400"/><circle cx="430"/><circle cx="452" class="e"/><circle cx="470"/><circle cx="495" class="ch"/><circle cx="508" class="o"/><circle cx="545" class="co"/><circle cx="550" class="co"/><circle cx="560" class="uy"/><circle cx="580" class="ch"/><circle cx="600" class="e"/><circle cx="625"/><circle cx="650" class="e"/><circle cx="677" class="e"/></g>
</g>
<g id="clade-19B" class="A">
<g transform="translate(0 452)"><circle cx="255" class="e"/><circle cx="273" class="o"/><circle cx="290"/><circle cx="313"/><circle cx="331" class="f"/><circle cx="348"/><circle cx="390"/><circle cx="397"/><circle cx="407"/><circle cx="448" class="o"/><circle cx="495" class="ch"/><circle cx="515" class="e"/><circle cx="560"/><circle cx="600"/><circle cx="620" class="f"/><circle cx="660"/></g>
<g transform="translate(0 457)"><circle cx="300"/><circle cx="330"/><circle cx="360"/><circle cx="380"/><circle cx="420" class="e"/><circle cx="440"/><circle cx="465" class="e"/><circle cx="480" class="e"/><circle cx="502" class="ch"/><circle cx="513" class="bz"/><circle cx="518" class="ch"/><circle cx="525" class="ch"/><circle cx="532" class="ch"/><circle cx="548" class="ch"/><circle cx="560" class="e"/><circle cx="580"/><circle cx="595" class="bz"/><circle cx="610"/><circle cx="640"/><circle cx="680"/><circle cx="700"/><circle cx="748"/><circle cx="760"/><circle cx="790"/><circle cx="802"/><circle cx="819"/><circle cx="925"/></g>
<g transform="translate(0 462)"><circle cx="460" class="e"/><circle cx="465" class="e"/><circle cx="470" class="e"/><circle cx="476" class="e"/><circle cx="482" class="e"/><circle cx="520" class="e"/><circle cx="548" class="e"/><circle cx="590" class="bz"/><circle cx="620" class="e"/><circle cx="660" class="e"/></g>
<g transform="translate(0 467)"><circle cx="243" class="e"/><circle cx="300"/><circle cx="335"/><circle cx="380"/><circle cx="430" class="e"/><circle cx="480"/><circle cx="520" class="e"/><circle cx="548" class="e"/><circle cx="565"/><circle cx="600" class="bz"/><circle cx="620" class="e"/><circle cx="640" class="co"/><circle cx="660"/><circle cx="700" class="e"/><circle cx="720" class="e"/><circle cx="778"/></g>
<g transform="translate(0 471)"><circle cx="262"/><circle cx="290"/><circle cx="330"/><circle cx="370"/><circle cx="410"/><circle cx="445" class="e"/><circle cx="470"/><circle cx="500"/><circle cx="530" class="e"/><circle cx="570"/><circle cx="620" class="e"/><circle cx="660" class="e"/><circle cx="680"/><circle cx="702"/><circle cx="784" class="f"/><circle cx="890"/><circle cx="902"/><circle cx="919"/></g>
<g transform="translate(0 476)"><circle cx="260"/><circle cx="267" class="e"/><circle cx="273"/><circle cx="296" class="o"/><circle cx="302"/><circle cx="320"/><circle cx="340"/><circle cx="367"/><circle cx="378"/><circle cx="385"/><circle cx="443"/><circle cx="460"/><circle cx="500" class="e"/><circle cx="530" class="e"/><circle cx="560"/></g>
<g transform="translate(0 480)"><circle cx="275"/><circle cx="290"/><circle cx="302" class="f"/><circle cx="306"/><circle cx="313"/><circle cx="320"/><circle cx="328"/><circle cx="338"/><circle cx="355"/><circle cx="362"/><circle cx="480" class="f"/><circle cx="500" class="e"/><circle cx="520" class="e"/><circle cx="560" class="f"/><circle cx="620" class="e"/><circle cx="650" class="e"/><circle cx="680" class="e"/></g>
<g transform="translate(0 485)"><circle cx="102"/><circle cx="290"/><circle cx="310"/><circle cx="330"/><circle cx="350"/><circle cx="520" class="f"/><circle cx="540" class="f"/><circle cx="600" class="s"/></g>
</g>
<g id="clade-labels">
<text x="380" y="133" class="lab">20B</text>
<text x="243" y="254" class="lab">20A</text>
<text x="410" y="320" class="lab">20C</text>
<text x="5" y="456" class="lab">19A</text>
<text x="148" y="474" class="lab">19B</text>
</g>
<g id="axis">
<text x="93" y="502" class="tick">2019-Dec-24</text>
<text x="217" y="502" class="tick">2020-Jan-15</text>
<text x="341" y="502" class="tick">2020-Feb-05</text>
<text x="465" y="502" class="tick">2020-Feb-26</text>
<text x="589" y="502" class="tick">2020-Mar-18</text>
<text x="713" y="502" class="tick">2020-Apr-08</text>
<text x="837" y="502" class="tick">2020-Apr-29</text>
<text x="961" y="502" class="tick">2020-May-20</text>
<text x="490" y="516" class="tick">Date</text>
</g>
</svg>
